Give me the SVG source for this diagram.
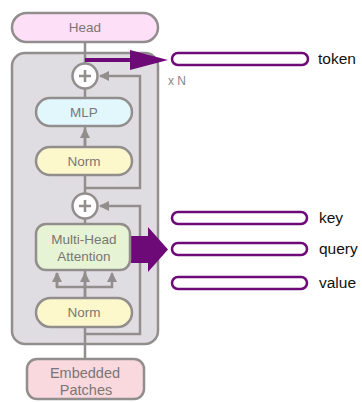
<svg xmlns="http://www.w3.org/2000/svg" width="362" height="402" viewBox="0 0 362 402">
<defs>
<style>
.node{stroke:#938e8e;stroke-width:2.5}
.lbl{font-family:"Liberation Sans",Arial,sans-serif;font-size:13.5px;fill:#7a7676;text-anchor:middle}
.con{fill:none;stroke:#938e8e;stroke-width:2.5}
.bar{fill:#fff;stroke:#6e0a78;stroke-width:2.5}
.out{font-family:"Liberation Sans",Arial,sans-serif;font-size:15.5px;fill:#111}
</style>
<marker id="ah" viewBox="0 0 10 10" refX="9" refY="5" markerWidth="4" markerHeight="4" orient="auto" markerUnits="strokeWidth">
<path d="M0,0 L10,5 L0,10 z" fill="#938e8e"/>
</marker>
</defs>
<g id="block"><rect x="12" y="53" width="146" height="291" rx="13" fill="#e0dde2" stroke="#938e8e" stroke-width="2.5"/></g>
<g id="connectors">
<path class="con" d="M85,358 V89"/>
<path class="con" d="M85,42 V63"/>
<path class="con" d="M85,188 H140 V76 H100" marker-end="url(#ah)"/>
<path class="con" d="M85,334 H140 V206 H100" marker-end="url(#ah)"/>
<path class="con" d="M85,147 V129" marker-end="url(#ah)"/>
<path class="con" d="M85,297 V273" marker-end="url(#ah)"/>
<path class="con" d="M57,273 V287 H112 V273" marker-end="url(#ah)"/>
<path class="con" d="M57,287 V273" marker-end="url(#ah)"/>
<path d="M85,60 H132" stroke="#6e0a78" stroke-width="4" fill="none"/>
<path d="M130,50 L168,60 L130,70 z" fill="#6e0a78"/>
<path d="M131,236 H148 V227 L168,249.5 L148,272 V263 H131 z" fill="#6e0a78"/>
</g>
<g id="head"><rect class="node" x="12" y="13" width="146" height="29" rx="14.5" fill="#fde0f7"/><text class="lbl" x="85" y="32">Head</text></g>
<g id="plus1"><circle class="node" cx="85" cy="76" r="12.5" fill="#fff"/><path d="M79,76 H91 M85,70 V82" stroke="#938e8e" stroke-width="2.5"/></g>
<g id="mlp"><rect class="node" x="36" y="98" width="96" height="28" rx="14" fill="#e1f7fc"/><text class="lbl" x="84" y="117">MLP</text></g>
<g id="norm1"><rect class="node" x="36" y="147" width="96" height="28" rx="14" fill="#fdf7cc"/><text class="lbl" x="84" y="166">Norm</text></g>
<g id="plus2"><circle class="node" cx="85" cy="206" r="12.5" fill="#fff"/><path d="M79,206 H91 M85,200 V212" stroke="#938e8e" stroke-width="2.5"/></g>
<g id="attention"><rect class="node" x="36" y="224" width="94" height="46" rx="10" fill="#e6f3d4"/><text class="lbl" x="84" y="244">Multi-Head</text><text class="lbl" x="84" y="261">Attention</text></g>
<g id="norm2"><rect class="node" x="36" y="298" width="96" height="29" rx="14.5" fill="#fdf7cc"/><text class="lbl" x="84" y="317">Norm</text></g>
<g id="patches"><rect class="node" x="27" y="359" width="117" height="40" rx="10" fill="#f9d8de"/><text class="lbl" x="85" y="378" style="font-size:14.5px">Embedded</text><text class="lbl" x="86" y="395" style="font-size:14.5px">Patches</text></g>
<text x="168" y="85" style="font-family:'Liberation Sans',Arial,sans-serif;font-size:12px;fill:#8a8686">x N</text>
<g id="token"><rect class="bar" x="172" y="53" width="136" height="12" rx="6"/><text class="out" x="318" y="64">token</text></g>
<g id="key"><rect class="bar" x="172" y="212" width="135" height="12" rx="6"/><text class="out" x="319" y="223">key</text></g>
<g id="query"><rect class="bar" x="172" y="243" width="135" height="12" rx="6"/><text class="out" x="319" y="254">query</text></g>
<g id="value"><rect class="bar" x="172" y="277" width="135" height="12" rx="6"/><text class="out" x="319" y="288">value</text></g>
</svg>
